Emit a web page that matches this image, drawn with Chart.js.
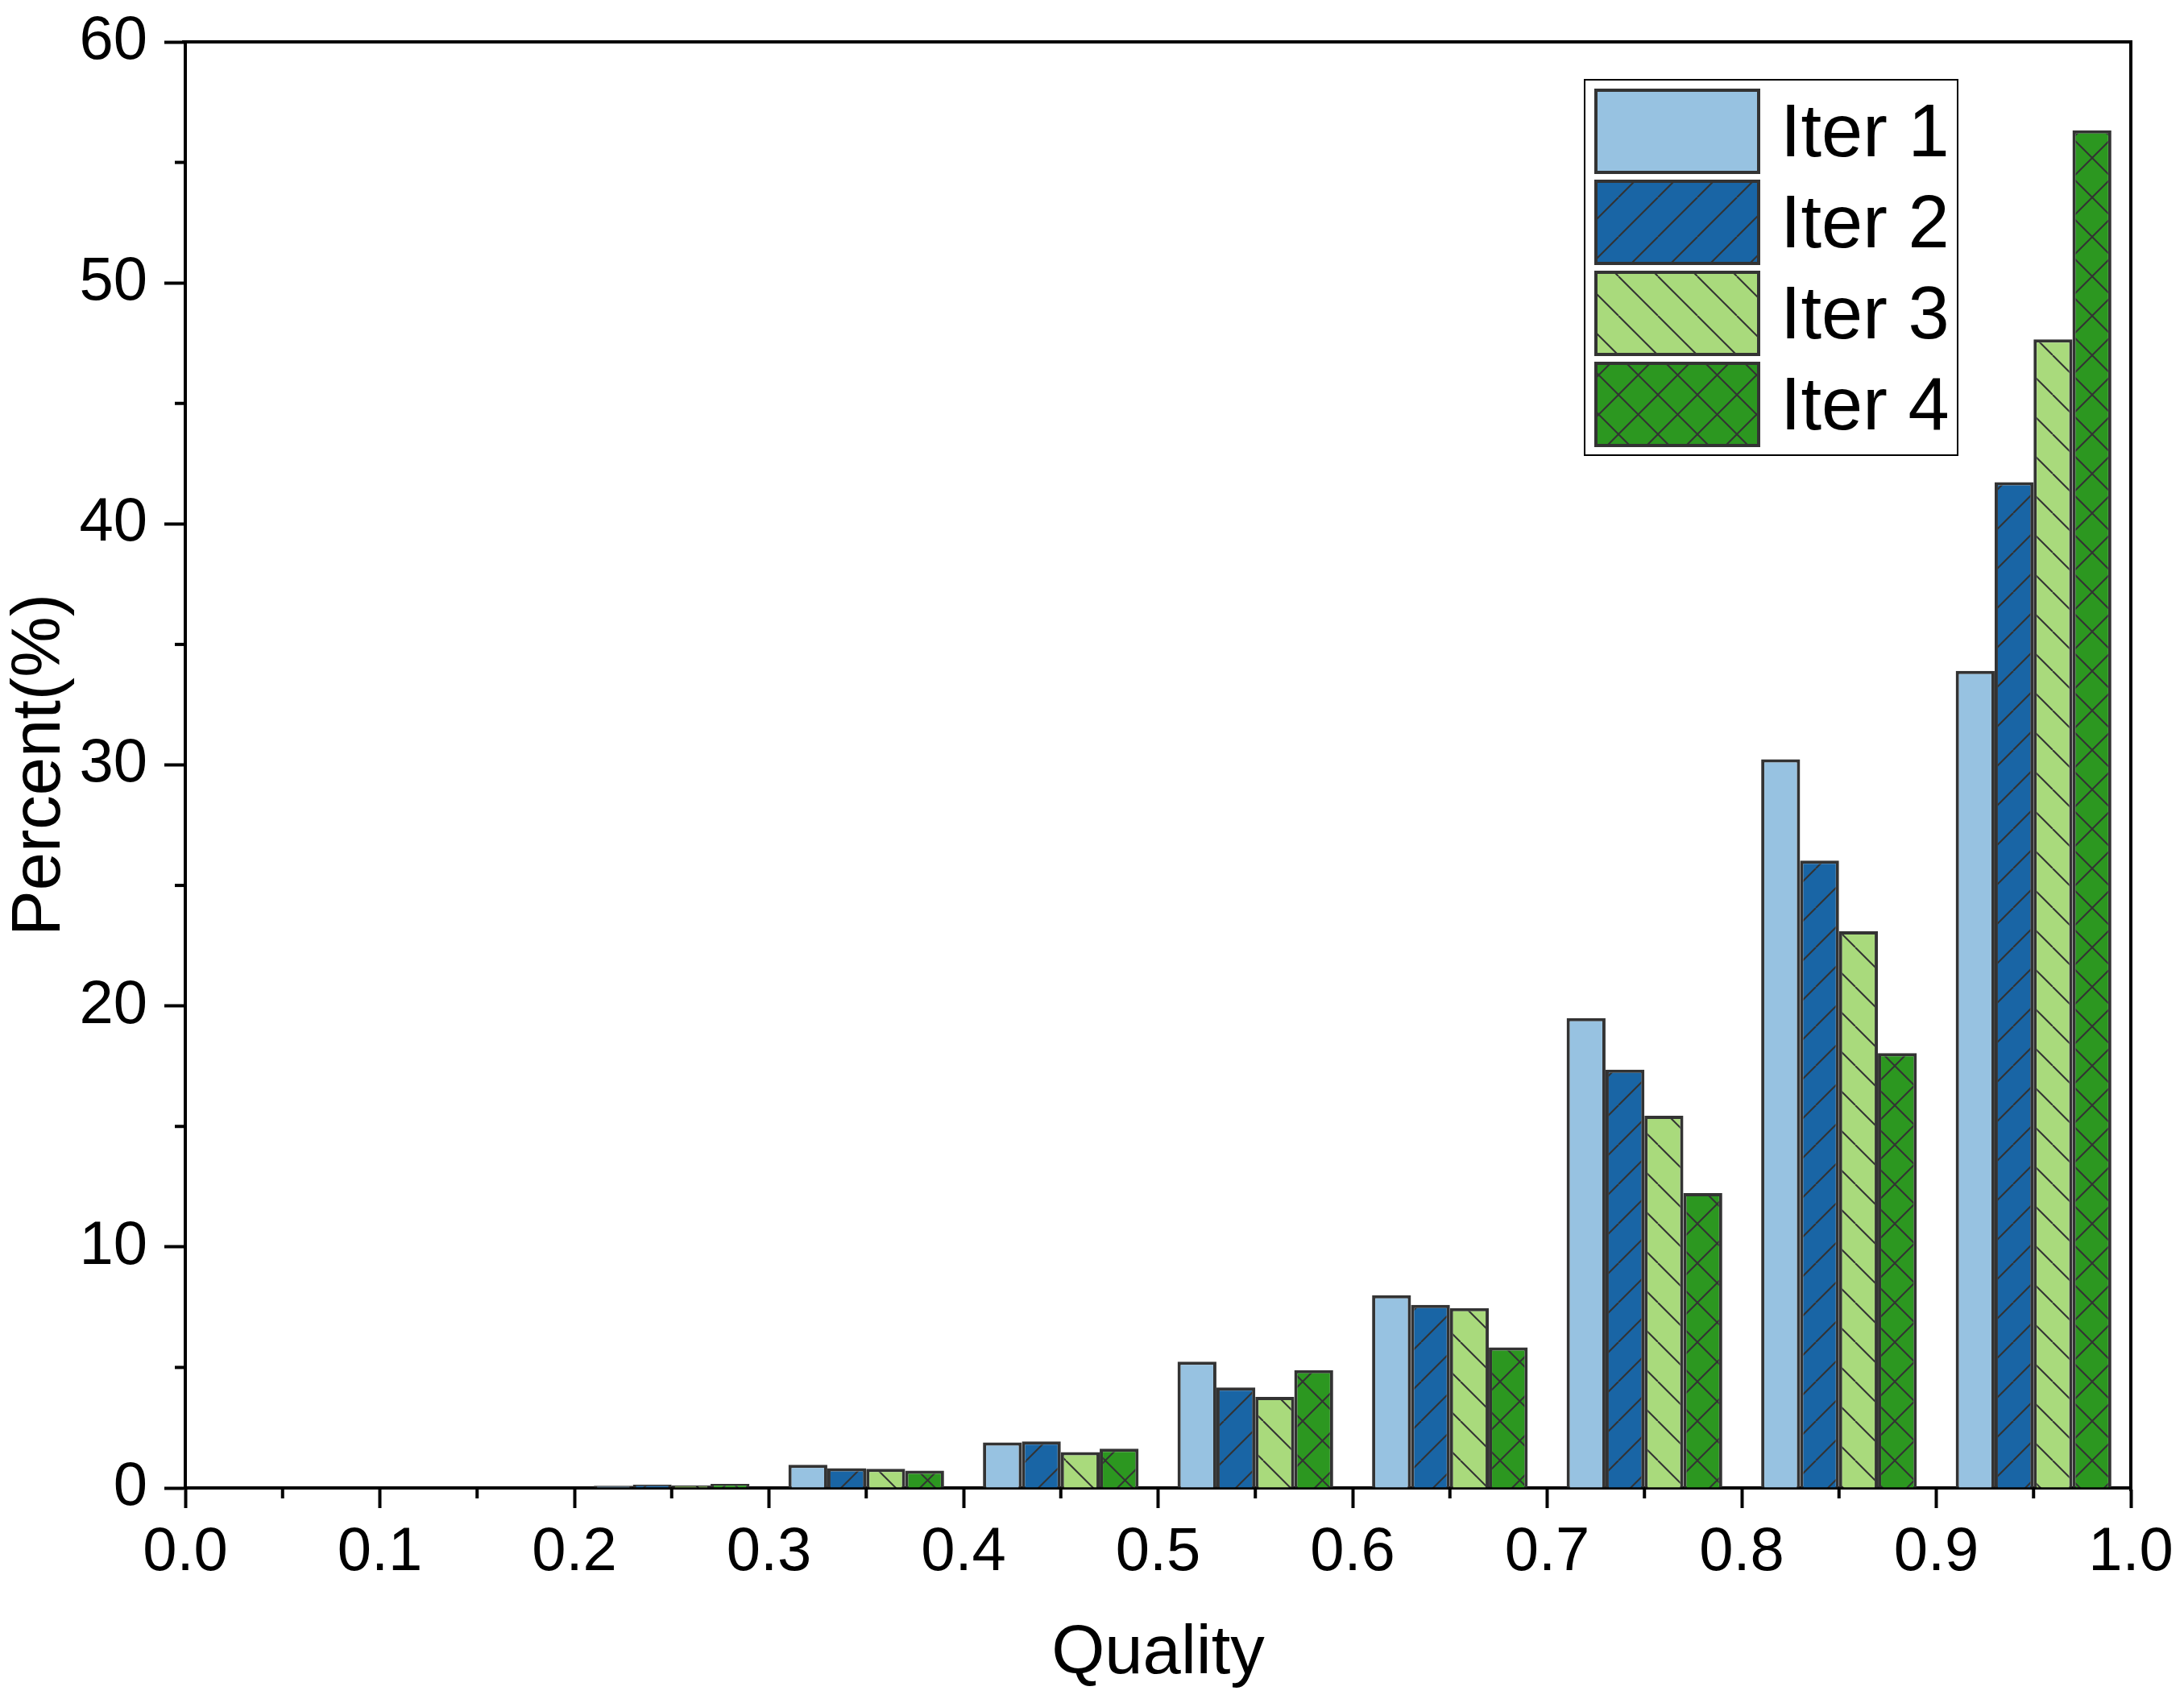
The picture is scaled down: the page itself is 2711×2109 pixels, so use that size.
<!DOCTYPE html>
<html>
<head>
<meta charset="utf-8">
<title>Quality distribution</title>
<script src="https://cdn.jsdelivr.net/npm/chart.js@4.4.1/dist/chart.umd.min.js"></script>
<style>
    html, body { margin: 0; padding: 0; background: #fff; }
    #wrap { position: relative; width: 2711px; height: 2109px; }
</style>
</head>
<body>
<div id="wrap"><canvas id="qualityChart"></canvas></div>
<script>
// ================================
// DATA
// ================================
const qualityBins = [0.05, 0.15, 0.25, 0.35, 0.45, 0.55, 0.65, 0.75, 0.85, 0.95];
const iterLabels = ['Iter 1', 'Iter 2', 'Iter 3', 'Iter 4'];

const iter1 = [0, 0, 0.09, 0.96, 1.89, 5.24, 8.00, 19.50, 30.23, 33.90];
const iter2 = [0, 0, 0.13, 0.82, 1.93, 4.17, 7.60, 17.36, 26.03, 41.73];
const iter3 = [0, 0, 0.10, 0.79, 1.49, 3.78, 7.46, 15.44, 23.10, 47.66];
const iter4 = [0, 0, 0.17, 0.72, 1.63, 4.89, 5.83, 12.23, 18.04, 56.33];

const xTickLabels = ['0.0', '0.1', '0.2', '0.3', '0.4', '0.5', '0.6', '0.7', '0.8', '0.9', '1.0'];
const yTickLabels = ['0', '10', '20', '30', '40', '50', '60'];

// ================================
// CONFIG
// ================================
const FONT = '"Liberation Sans", Arial, Helvetica, sans-serif';
const W = 2711, H = 2109;
const PLOT = { left: 230, top: 52, right: 2645, bottom: 1847 };
const EDGE = '#333333';

Chart.defaults.font.family = FONT;
Chart.defaults.color = '#000';

// ================================
// HATCH FILLS
// ================================
function makeFill(bg, kind) {
    const s = 49;
    const c = document.createElement('canvas');
    c.width = s; c.height = s;
    const g = c.getContext('2d');
    g.fillStyle = bg;
    g.fillRect(0, 0, s, s);
    g.strokeStyle = EDGE;
    g.lineWidth = 2;
    for (let k = -1; k <= 1; k++) {
        if (kind === 'fwd' || kind === 'cross') {
            g.beginPath(); g.moveTo(k * s, s); g.lineTo(k * s + s, 0); g.stroke();
        }
        if (kind === 'back' || kind === 'cross') {
            g.beginPath(); g.moveTo(k * s, 0); g.lineTo(k * s + s, s); g.stroke();
        }
    }
    return g.createPattern(c, 'repeat');
}

const fills = [
    '#97c2e1',
    makeFill('#1965a5', 'fwd'),
    makeFill('#a9da7c', 'back'),
    makeFill('#2c9720', 'cross')
];

// ================================
// PLUGINS
// ================================
const minorTicks = {
    id: 'minorTicks',
    afterDraw(chart) {
        const { ctx, scales: { x, y } } = chart;
        ctx.save();
        ctx.strokeStyle = '#000';
        ctx.lineWidth = 4;
        const xt = x.ticks.map(t => t.value);
        for (let i = 0; i < xt.length - 1; i++) {
            const px = x.getPixelForValue((xt[i] + xt[i + 1]) / 2);
            ctx.beginPath(); ctx.moveTo(px, x.top); ctx.lineTo(px, x.top + 13); ctx.stroke();
        }
        const yt = y.ticks.map(t => t.value);
        for (let i = 0; i < yt.length - 1; i++) {
            const py = y.getPixelForValue((yt[i] + yt[i + 1]) / 2);
            ctx.beginPath(); ctx.moveTo(y.right, py); ctx.lineTo(y.right - 13, py); ctx.stroke();
        }
        ctx.restore();
    }
};

const frame = {
    id: 'frame',
    afterDraw(chart) {
        const { ctx, chartArea: a } = chart;
        ctx.save();
        ctx.strokeStyle = '#000';
        ctx.lineWidth = 4;
        ctx.beginPath();
        ctx.moveTo(a.left - 4, a.top);
        ctx.lineTo(a.right + 2, a.top);
        ctx.moveTo(a.right, a.top);
        ctx.lineTo(a.right, a.bottom + 4);
        ctx.stroke();
        ctx.restore();
    }
};

const legendBox = {
    id: 'legendBox',
    afterDraw(chart) {
        const { ctx, chartArea: a } = chart;
        const boxL = a.right - 678, boxT = a.top + 47;
        ctx.save();
        ctx.fillStyle = '#fff';
        ctx.fillRect(boxL, boxT, 463, 466);
        ctx.lineWidth = 2;
        ctx.strokeStyle = '#000';
        ctx.strokeRect(boxL, boxT, 463, 466);
        chart.data.datasets.forEach((ds, i) => {
            const sx = boxL + 14, sy = boxT + 13 + i * 113;
            ctx.fillStyle = ds.backgroundColor;
            ctx.fillRect(sx, sy, 202, 102);
            ctx.lineWidth = 4;
            ctx.strokeStyle = EDGE;
            ctx.strokeRect(sx, sy, 202, 102);
            ctx.fillStyle = '#000';
            ctx.font = `92px ${FONT}`;
            ctx.textBaseline = 'alphabetic';
            ctx.textAlign = 'left';
            ctx.fillText(ds.label, boxL + 243, sy + 82);
        });
        ctx.restore();
    }
};

// ================================
// CHART
// ================================
const series = [iter1, iter2, iter3, iter4];

new Chart(document.getElementById('qualityChart'), {
    type: 'bar',
    data: {
        datasets: series.map((vals, i) => ({
            label: iterLabels[i],
            data: qualityBins.map((q, j) => ({ x: q, y: vals[j] })),
            backgroundColor: fills[i],
            borderColor: EDGE,
            borderWidth: 4,
            categoryPercentage: 0.8,
            barPercentage: 1.0
        }))
    },
    options: {
        responsive: true,
        maintainAspectRatio: false,
        animation: false,
        events: [],
        layout: { padding: { top: PLOT.top, right: W - PLOT.right, left: 0, bottom: 0 } },
        plugins: { legend: { display: false }, tooltip: { enabled: false } },
        scales: {
            x: {
                type: 'linear',
                min: 0,
                max: 1,
                offset: false,
                z: 1,
                grid: { drawOnChartArea: false, drawTicks: true, tickLength: 25, tickWidth: 4, tickColor: '#000', offset: false },
                border: { display: true, width: 4, color: '#000' },
                ticks: {
                    stepSize: 0.1,
                    padding: 10,
                    maxRotation: 0,
                    autoSkip: false,
                    color: '#000',
                    font: { size: 76 },
                    callback: v => xTickLabels[Math.round(v * 10)]
                },
                title: { display: true, text: 'Quality', color: '#000', font: { size: 85 }, padding: { top: 0, bottom: 4 } },
                afterFit: s => { s.height = H - PLOT.bottom; }
            },
            y: {
                min: 0,
                max: 60,
                z: 1,
                grid: { drawOnChartArea: false, drawTicks: true, tickLength: 26, tickWidth: 4, tickColor: '#000' },
                border: { display: true, width: 4, color: '#000' },
                ticks: {
                    stepSize: 10,
                    padding: 21,
                    color: '#000',
                    font: { size: 76 },
                    callback: v => yTickLabels[Math.round(v / 10)]
                },
                title: { display: true, text: 'Percent(%)', color: '#000', font: { size: 85 }, padding: { top: 0, bottom: 0 } },
                afterFit: s => {
                    s.width = PLOT.left;
                    // let the layout padding alone decide where the plot starts
                    s.paddingTop = 0;
                    s.paddingBottom = 0;
                }
            }
        }
    },
    plugins: [minorTicks, frame, legendBox]
});
</script>
</body>
</html>
